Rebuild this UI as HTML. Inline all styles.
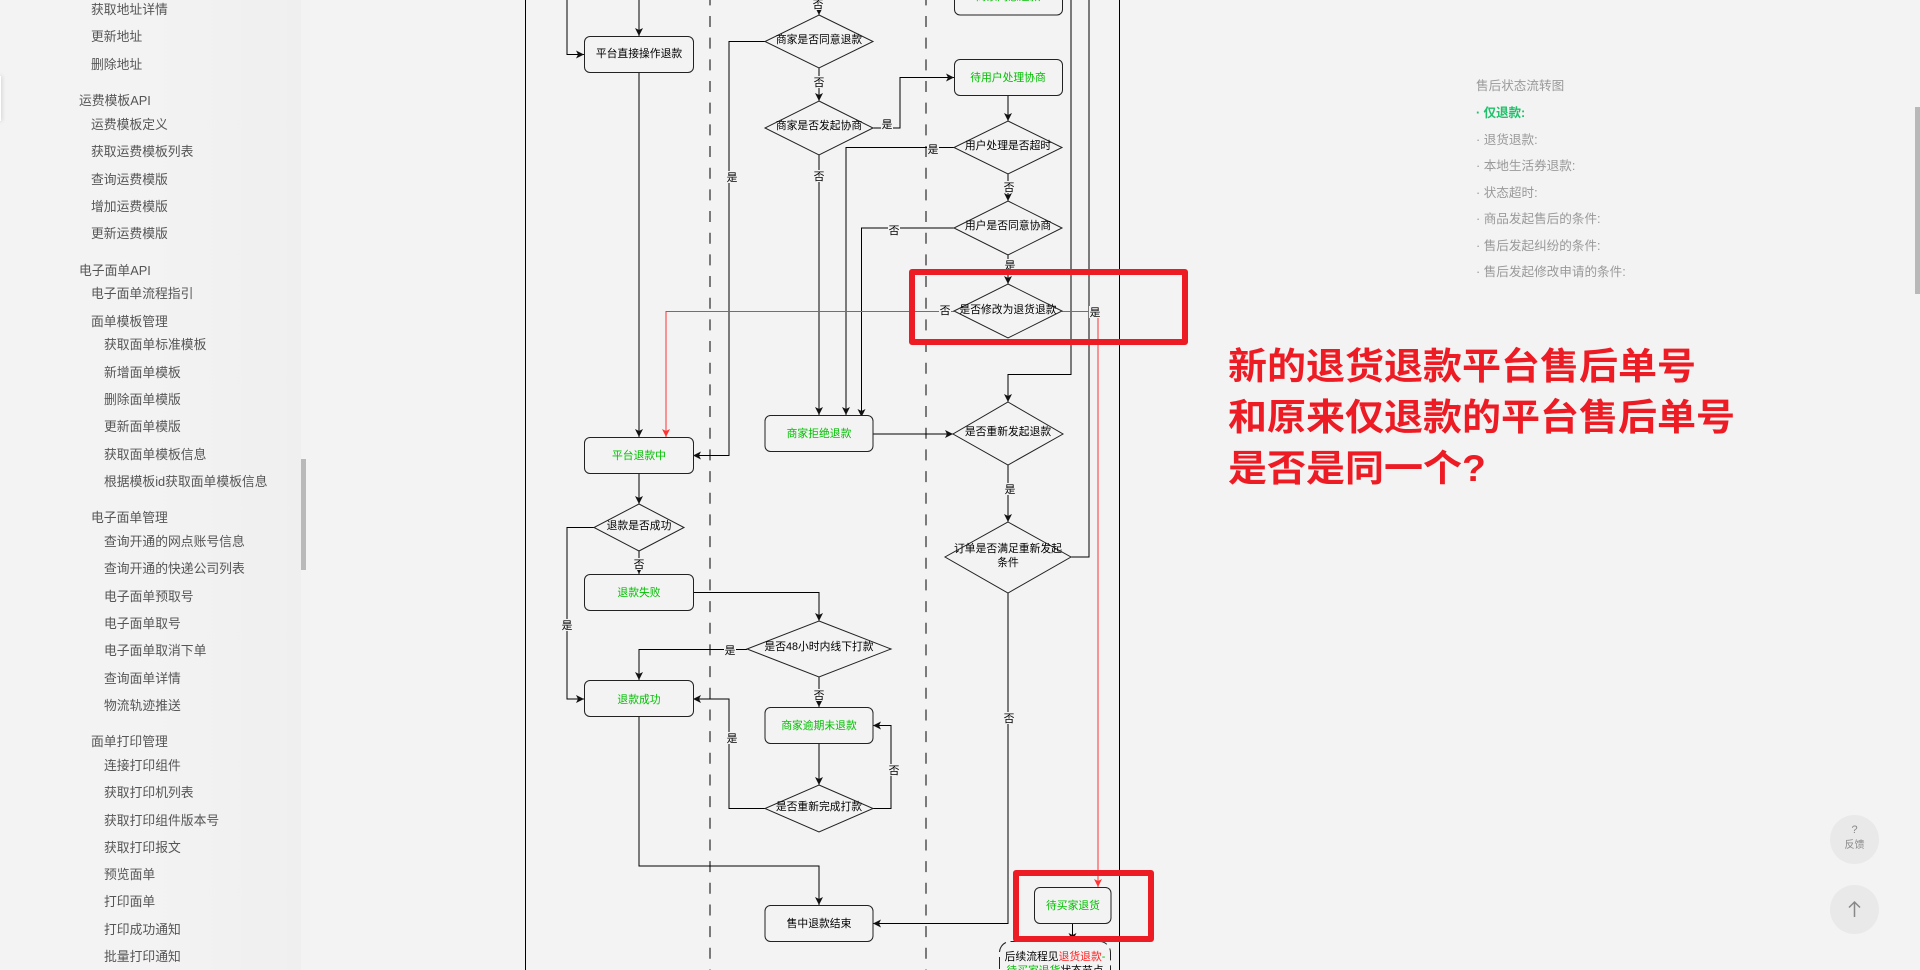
<!DOCTYPE html>
<html><head><meta charset="utf-8"><style>
html,body{margin:0;padding:0;width:1920px;height:970px;overflow:hidden;background:#f3f3f3;font-family:"Liberation Sans","Noto Sans CJK SC",sans-serif}
.sb{position:absolute;left:0;top:0;width:301px;height:970px;background:linear-gradient(90deg,#f3f3f3 0,#f3f3f3 50%,#efefef 100%)}
.i{position:absolute;font-size:12.8px;line-height:16px;color:#555;white-space:nowrap;margin-top:1px;margin-left:-1px}
.t{position:absolute;left:1476px;font-size:12.6px;line-height:16px;color:#999;white-space:nowrap;margin-top:1px}
svg{position:absolute;left:0;top:0}
svg text{font-family:"Liberation Sans","Noto Sans CJK SC",sans-serif;font-size:10.8px;text-anchor:middle;fill:#000}
svg text.g{fill:#00c000}
svg rect.l{fill:#f3f3f3}
.b{fill:#f3f3f3;stroke:#222;stroke-width:1}
.d{fill:#f3f3f3;stroke:#222;stroke-width:1}
.c{fill:none;stroke:#000;stroke-width:1}
.r{fill:none;stroke:#ff3333;stroke-width:1}
.red{position:absolute;font-size:37px;font-weight:700;color:#ed1c24;line-height:51px;white-space:nowrap;left:1228px;transform:scaleX(1.054);transform-origin:0 0}
.big{position:absolute;border:6px solid #ed1c24;border-radius:3px;box-sizing:border-box}
.cir{position:absolute;left:1830px;width:49px;height:49px;border-radius:50%;background:#e9e9e9;color:#888;text-align:center}
</style></head><body>
<div class="sb"></div>
<div style="position:absolute;left:301px;top:459px;width:5px;height:111px;background:#b9b9b9"></div>
<div style="position:absolute;left:1915px;top:107px;width:5px;height:187px;background:#b8b8b8"></div>
<div style="position:absolute;left:0;top:76px;width:1px;height:45px;background:#fff;box-shadow:0 0 4px #888"></div>

<div class="i" style="left:92px;top:1px">获取地址详情</div>
<div class="i" style="left:92px;top:28px">更新地址</div>
<div class="i" style="left:92px;top:56px">删除地址</div>
<div class="i" style="left:80px;top:92px">运费模板API</div>
<div class="i" style="left:92px;top:116px">运费模板定义</div>
<div class="i" style="left:92px;top:143px">获取运费模板列表</div>
<div class="i" style="left:92px;top:171px">查询运费模版</div>
<div class="i" style="left:92px;top:198px">增加运费模版</div>
<div class="i" style="left:92px;top:225px">更新运费模版</div>
<div class="i" style="left:80px;top:262px">电子面单API</div>
<div class="i" style="left:92px;top:285px">电子面单流程指引</div>
<div class="i" style="left:92px;top:313px">面单模板管理</div>
<div class="i" style="left:105px;top:336px">获取面单标准模板</div>
<div class="i" style="left:105px;top:364px">新增面单模板</div>
<div class="i" style="left:105px;top:391px">删除面单模版</div>
<div class="i" style="left:105px;top:418px">更新面单模版</div>
<div class="i" style="left:105px;top:446px">获取面单模板信息</div>
<div class="i" style="left:105px;top:473px">根据模板id获取面单模板信息</div>
<div class="i" style="left:92px;top:509px">电子面单管理</div>
<div class="i" style="left:105px;top:533px">查询开通的网点账号信息</div>
<div class="i" style="left:105px;top:560px">查询开通的快递公司列表</div>
<div class="i" style="left:105px;top:588px">电子面单预取号</div>
<div class="i" style="left:105px;top:615px">电子面单取号</div>
<div class="i" style="left:105px;top:642px">电子面单取消下单</div>
<div class="i" style="left:105px;top:670px">查询面单详情</div>
<div class="i" style="left:105px;top:697px">物流轨迹推送</div>
<div class="i" style="left:92px;top:733px">面单打印管理</div>
<div class="i" style="left:105px;top:757px">连接打印组件</div>
<div class="i" style="left:105px;top:784px">获取打印机列表</div>
<div class="i" style="left:105px;top:812px">获取打印组件版本号</div>
<div class="i" style="left:105px;top:839px">获取打印报文</div>
<div class="i" style="left:105px;top:866px">预览面单</div>
<div class="i" style="left:105px;top:893px">打印面单</div>
<div class="i" style="left:105px;top:921px">打印成功通知</div>
<div class="i" style="left:105px;top:948px">批量打印通知</div>

<svg width="1920" height="970" viewBox="0 0 1920 970">
<defs>
<marker id="a" markerUnits="userSpaceOnUse" markerWidth="8" markerHeight="8" refX="8" refY="4" orient="auto"><path d="M0,0 L8,4 L0,8 L2,4Z" fill="#111"/></marker>
<marker id="ar" markerUnits="userSpaceOnUse" markerWidth="8" markerHeight="8" refX="8" refY="4" orient="auto"><path d="M0,0 L8,4 L0,8 L2,4Z" fill="#ff3333"/></marker>
</defs>
<!-- lanes -->
<path d="M525.5,0V970M1119.5,0V970" stroke="#000" fill="none"/>
<path d="M710,0V970M926,0V970" stroke="#000" fill="none" stroke-dasharray="11 10.67" stroke-dashoffset="5.67"/>
<!-- connectors -->
<g class="c">
<path class="c" marker-end="url(#a)" d="M639,0V36"/>
<path class="c" marker-end="url(#a)" d="M567,0V54.5H584"/>
<path class="c" marker-end="url(#a)" d="M639,72V437"/>
<path class="c" marker-end="url(#a)" d="M819,0V15"/>
<path class="c" marker-end="url(#a)" d="M765,41.5H729V455.5H693"/>
<path class="c" marker-end="url(#a)" d="M819,68V101"/>
<path class="c" marker-end="url(#a)" d="M873,128H900V77.5H954"/>
<path class="c" marker-end="url(#a)" d="M819,155V415"/>
<path class="c" marker-end="url(#a)" d="M954,147.5H846V415"/>
<path class="c" marker-end="url(#a)" d="M954,228H861.5V417"/>
<path class="c" marker-end="url(#a)" d="M1008,96V121"/>
<path class="c" marker-end="url(#a)" d="M1008,174V201"/>
<path class="c" marker-end="url(#a)" d="M1008,255V284"/>
<path class="c" marker-end="url(#a)" d="M1071,0V374.5H1008V402"/>
<path class="c" d="M1071,557H1089V0"/>
<path class="c" marker-end="url(#a)" d="M873,434H953"/>
<path class="c" marker-end="url(#a)" d="M1008,465V522"/>
<path class="c" marker-end="url(#a)" d="M1008,593V923.5H873"/>
<path class="c" marker-end="url(#a)" d="M639,474V504"/>
<path class="c" marker-end="url(#a)" d="M594,527.5H567V699H584"/>
<path class="c" marker-end="url(#a)" d="M639,551V574"/>
<path class="c" marker-end="url(#a)" d="M693,592.5H819V621"/>
<path class="c" marker-end="url(#a)" d="M747,649.5H639V680"/>
<path class="c" marker-end="url(#a)" d="M819,677V707"/>
<path class="c" marker-end="url(#a)" d="M819,744V785"/>
<path class="c" marker-end="url(#a)" d="M765,808.5H729V699H693"/>
<path class="c" marker-end="url(#a)" d="M873,808.5H891V725.5H873"/>
<path class="c" marker-end="url(#a)" d="M639,717V866H819V905"/>
<path class="c" marker-end="url(#a)" d="M1072.5,924V941"/>
</g>
<path class="r" marker-end="url(#ar)" d="M954,311.5H666V437"/>
<path class="r" marker-end="url(#ar)" d="M1062,311.5H1098V887"/>

<!-- boxes -->
<g class="b">
<rect class="b" x="584.5" y="36.5" width="109" height="36" rx="5.5"/>
<rect class="b" x="954.5" y="-22" width="108" height="37" rx="5.5"/>
<rect class="b" x="954.5" y="59.5" width="108" height="36" rx="5.5"/>
<rect class="b" x="765" y="415.5" width="108" height="36" rx="5.5"/>
<rect class="b" x="584.5" y="437.5" width="109" height="36" rx="5.5"/>
<rect class="b" x="584.5" y="574.5" width="109" height="36" rx="5.5"/>
<rect class="b" x="584.5" y="680.5" width="109" height="36" rx="5.5"/>
<rect class="b" x="765" y="707.5" width="108" height="36" rx="5.5"/>
<rect class="b" x="765" y="905.5" width="108" height="36" rx="5.5"/>
<rect class="b" x="1034.5" y="887.5" width="76.5" height="36" rx="5.5"/>
<rect class="b" x="999.5" y="941.5" width="111" height="60" rx="11" stroke-dasharray="12 5"/>
</g>
<!-- diamonds -->
<polygon class="d" points="819,15 873,41.5 819,68 765,41.5"/>
<polygon class="d" points="819,101 873,128 819,155 765,128"/>
<polygon class="d" points="1008,121 1062,147.5 1008,174 954,147.5"/>
<polygon class="d" points="1008,201 1062,228 1008,255 954,228"/>
<polygon class="d" points="1008,284 1062,311 1008,338 954,311"/>
<polygon class="d" points="1008,402 1063,434 1008,465 953,434"/>
<polygon class="d" points="1008,522 1071,557 1008,593 945,557"/>
<polygon class="d" points="639,504 684,527.5 639,551 594,527.5"/>
<polygon class="d" points="819,621 891,649 819,677 747,649"/>
<polygon class="d" points="819,785 873,808.5 819,832 765,808.5"/>

<!-- node text -->
<text x="639" y="57">平台直接操作退款</text>
<text class="g" x="1008" y="0">商家同意退款</text>
<text x="819" y="43">商家是否同意退款</text>
<text x="819" y="129">商家是否发起协商</text>
<text class="g" x="1008" y="81">待用户处理协商</text>
<text x="1008" y="149">用户处理是否超时</text>
<text x="1008" y="229">用户是否同意协商</text>
<text x="1008" y="313">是否修改为退货退款</text>
<text class="g" x="819" y="437">商家拒绝退款</text>
<text x="1008" y="435">是否重新发起退款</text>
<text x="1008" y="552">订单是否满足重新发起</text>
<text x="1008" y="566">条件</text>
<text class="g" x="639" y="459">平台退款中</text>
<text x="639" y="529">退款是否成功</text>
<text class="g" x="639" y="596">退款失败</text>
<text x="819" y="650">是否48小时内线下打款</text>
<text class="g" x="639" y="703">退款成功</text>
<text class="g" x="819" y="729">商家逾期未退款</text>
<text x="819" y="810">是否重新完成打款</text>
<text x="819" y="927">售中退款结束</text>
<text class="g" x="1073" y="909">待买家退货</text>
<text x="1055" y="960"><tspan>后续流程见</tspan><tspan style="fill:#ff2020">退货退款</tspan><tspan style="fill:#00c000">-</tspan></text>
<text x="1055" y="974"><tspan style="fill:#00c000">待买家退货</tspan><tspan>状态节点</tspan></text>

<!-- edge labels -->
<rect class="l" x="812" y="-2" width="12" height="12"/><text x="818" y="8">否</text>
<rect class="l" x="813" y="76" width="12" height="12"/><text x="819" y="86">否</text>
<rect class="l" x="726" y="171" width="12" height="12"/><text x="732" y="181">是</text>
<rect class="l" x="813" y="170" width="12" height="12"/><text x="819" y="180">否</text>
<rect class="l" x="881" y="118" width="12" height="12"/><text x="887" y="128">是</text>
<rect class="l" x="927" y="143" width="12" height="12"/><text x="933" y="153">是</text>
<rect class="l" x="1003" y="181" width="12" height="12"/><text x="1009" y="191">否</text>
<rect class="l" x="888" y="224" width="12" height="12"/><text x="894" y="234">否</text>
<rect class="l" x="1004" y="259" width="12" height="12"/><text x="1010" y="269">是</text>
<rect class="l" x="939" y="304" width="12" height="12"/><text x="945" y="314">否</text>
<rect class="l" x="1089" y="306" width="12" height="12"/><text x="1095" y="316">是</text>
<rect class="l" x="1004" y="483" width="12" height="12"/><text x="1010" y="493">是</text>
<rect class="l" x="1003" y="712" width="12" height="12"/><text x="1009" y="722">否</text>
<rect class="l" x="633" y="558" width="12" height="12"/><text x="639" y="568">否</text>
<rect class="l" x="561" y="619" width="12" height="12"/><text x="567" y="629">是</text>
<rect class="l" x="724" y="644" width="12" height="12"/><text x="730" y="654">是</text>
<rect class="l" x="813" y="689" width="12" height="12"/><text x="819" y="699">否</text>
<rect class="l" x="726" y="732" width="12" height="12"/><text x="732" y="742">是</text>
<rect class="l" x="888" y="764" width="12" height="12"/><text x="894" y="774">否</text>
</svg>

<div class="big" style="left:909px;top:269px;width:279px;height:76px"></div>
<div class="big" style="left:1013px;top:870px;width:141px;height:72px"></div>

<div class="red" style="top:341px">新的退货退款平台售后单号</div>
<div class="red" style="top:392px">和原来仅退款的平台售后单号</div>
<div class="red" style="top:443px">是否是同一个?</div>

<div class="t" style="top:77px">售后状态流转图</div>
<div class="t" style="top:104px;color:#1fc16b;font-weight:700;letter-spacing:-.1px">· 仅退款:</div>
<div class="t" style="top:131px">· 退货退款:</div>
<div class="t" style="top:157px">· 本地生活券退款:</div>
<div class="t" style="top:184px">· 状态超时:</div>
<div class="t" style="top:210px">· 商品发起售后的条件:</div>
<div class="t" style="top:237px">· 售后发起纠纷的条件:</div>
<div class="t" style="top:263px">· 售后发起修改申请的条件:</div>

<div class="cir" style="top:815px;font-size:11px;line-height:13px"><div style="padding-top:9px">?</div><div style="font-size:10px;margin-top:2px">反馈</div></div>
<div class="cir" style="top:885px"><svg style="position:absolute;left:0;top:0" width="49" height="49"><path d="M24.5,32V17M19,22.5L24.5,17L30,22.5" fill="none" stroke="#888" stroke-width="1.5"/></svg></div>
</body></html>
